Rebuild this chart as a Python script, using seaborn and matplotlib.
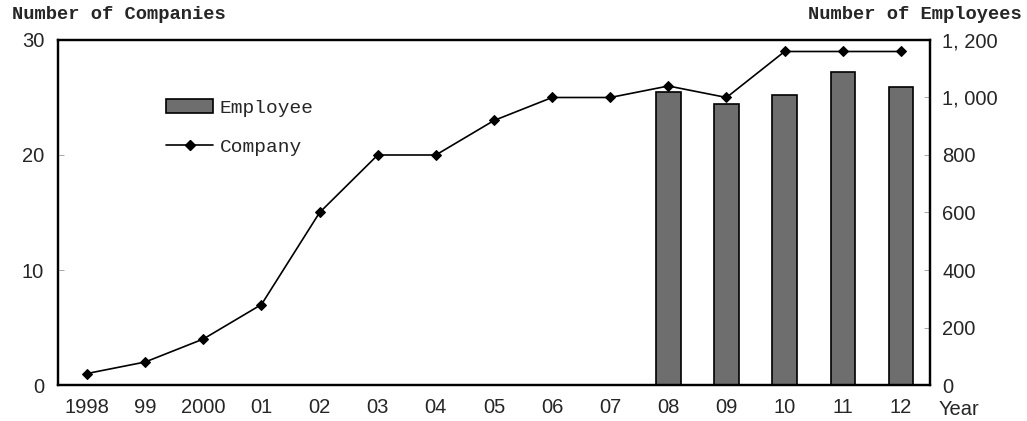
import numpy as np
import pandas as pd
import matplotlib
matplotlib.use('Agg')
import matplotlib.pyplot as plt
import seaborn as sns
from matplotlib.ticker import FixedLocator, FuncFormatter
from matplotlib.lines import Line2D
from matplotlib.patches import Patch

sns.set_style('white')
plt.rcParams['font.family'] = ['Liberation Sans', 'DejaVu Sans']

# data
years = ['1998', '99', '2000', '01', '02', '03', '04', '05', '06', '07',
         '08', '09', '10', '11', '12']
companies = [1, 2, 4, 7, 15, 20, 20, 23, 25, 25, 26, 25, 29, 29, 29]
employees = [np.nan] * 10 + [1020, 977, 1010, 1090, 1038]

df = pd.DataFrame({'year': years, 'company': companies, 'employee': employees})

BAR_COLOR = '#6e6e6e'

fig = plt.figure(figsize=(10.27, 4.21), dpi=100)
ax1 = fig.add_axes([0.0565, 0.0855, 0.849, 0.8195])
ax2 = ax1.twinx()

# employees as bars on the right axis
sns.barplot(data=df.dropna(), x='year', y='employee', order=years, color=BAR_COLOR,
            width=0.42, edgecolor='black', linewidth=1.2, saturation=1, ax=ax2)
ax2.set_ylim(0, 1200)
ax2.set_yticks([0, 200, 400, 600, 800, 1000, 1200])
ax2.yaxis.set_major_formatter(FuncFormatter(lambda v, p: f'{int(v):,}'.replace(',', ', ')))
ax2.set_ylabel('')

# companies as line on the left axis
sns.lineplot(x=np.arange(len(years)), y=df['company'], color='black', marker='D',
             markersize=5, linewidth=1.2, markeredgecolor='black', ax=ax1)
ax1.set_ylim(0, 30)
ax1.set_yticks([0, 10, 20, 30])
ax1.set_xlim(-0.5, len(years) - 0.5)
ax1.set_xticks(np.arange(len(years)))
ax1.set_xticklabels(years)
ax1.xaxis.set_minor_locator(FixedLocator(np.arange(-0.5, len(years), 1.0)))
ax1.set_xlabel('')
ax1.set_ylabel('')

ax1.set_zorder(ax2.get_zorder() + 1)
ax1.patch.set_visible(False)

for ax in (ax1, ax2):
    for sp in ax.spines.values():
        sp.set_visible(True)
        sp.set_color('black')
        sp.set_linewidth(1.6)

ax1.tick_params(axis='x', which='major', length=0, labelsize=14.5, pad=9)
ax1.tick_params(axis='x', which='minor', direction='in', length=4, width=0.6, color='#999999')
ax1.tick_params(axis='y', direction='in', length=4, width=0.6, color='#999999', labelsize=14.5, pad=10)
ax2.tick_params(axis='y', direction='in', length=4, width=0.6, color='#999999', labelsize=14.5, pad=9)
ax2.tick_params(axis='x', length=0)

mono = ['Liberation Mono', 'DejaVu Sans Mono']
fig.text(0.012, 0.945, 'Number of Companies', family=mono, fontsize=13.5, weight='bold',
         ha='left', va='bottom')
fig.text(0.995, 0.945, 'Number of Employees', family=mono, fontsize=13.5, weight='bold',
         ha='right', va='bottom')
fig.text(0.914, 0.027, 'Year', fontsize=14.5, ha='left', va='center')

handles = [Patch(facecolor=BAR_COLOR, edgecolor='black', linewidth=1.2),
           Line2D([0], [0], color='black', marker='D', markersize=5, linewidth=1.2)]
ax1.legend(handles, ['Employee', 'Company'], loc='upper left', bbox_to_anchor=(0.104, 0.88),
           frameon=False, prop={'family': mono, 'size': 14}, handlelength=2.4,
           labelspacing=1.1, handletextpad=0.35)

fig.savefig('out.png', dpi=100)
